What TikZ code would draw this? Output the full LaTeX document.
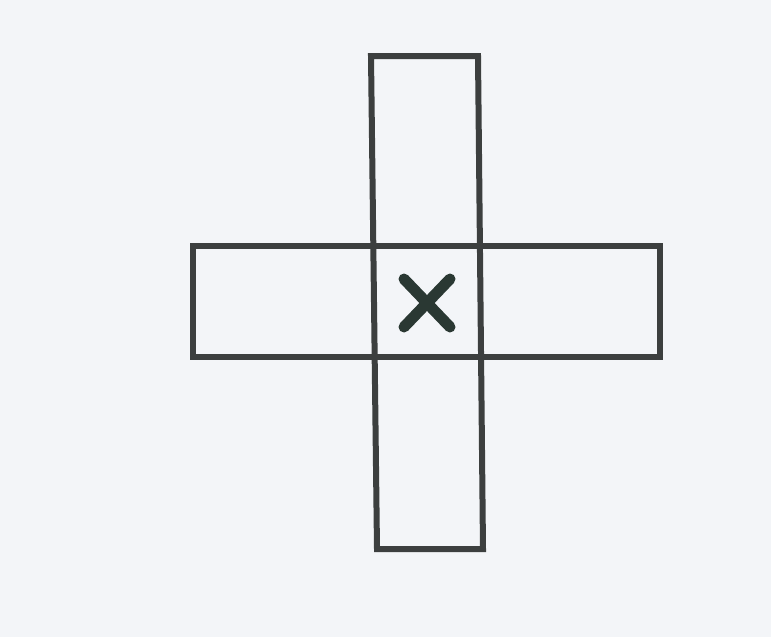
\documentclass[tikz,border=0pt]{standalone}
\begin{document}
\begin{tikzpicture}[x=1pt,y=-1pt,
  bar/.style={draw=linegray,line width=6pt,line join=miter},
  cross/.style={draw=markgreen,line width=11pt,line cap=round}]
\definecolor{bg}{HTML}{F3F5F8}
\definecolor{linegray}{HTML}{3C3F3F}
\definecolor{markgreen}{HTML}{2A3833}
\fill[bg] (0,0) rectangle (771,637);
\useasboundingbox (0,0) rectangle (771,637);
% vertical bar
\draw[bar] (371,56) -- (478,56) -- (483,549) -- (377,549) -- cycle;
% horizontal bar
\draw[bar] (193,246) rectangle (660,357);
% center mark
\coordinate (c) at (427,303);
\draw[cross] ([shift={(-23,-24)}]c) -- ([shift={(23,24)}]c);
\draw[cross] ([shift={(23,-24)}]c) -- ([shift={(-23,24)}]c);
\end{tikzpicture}
\end{document}
